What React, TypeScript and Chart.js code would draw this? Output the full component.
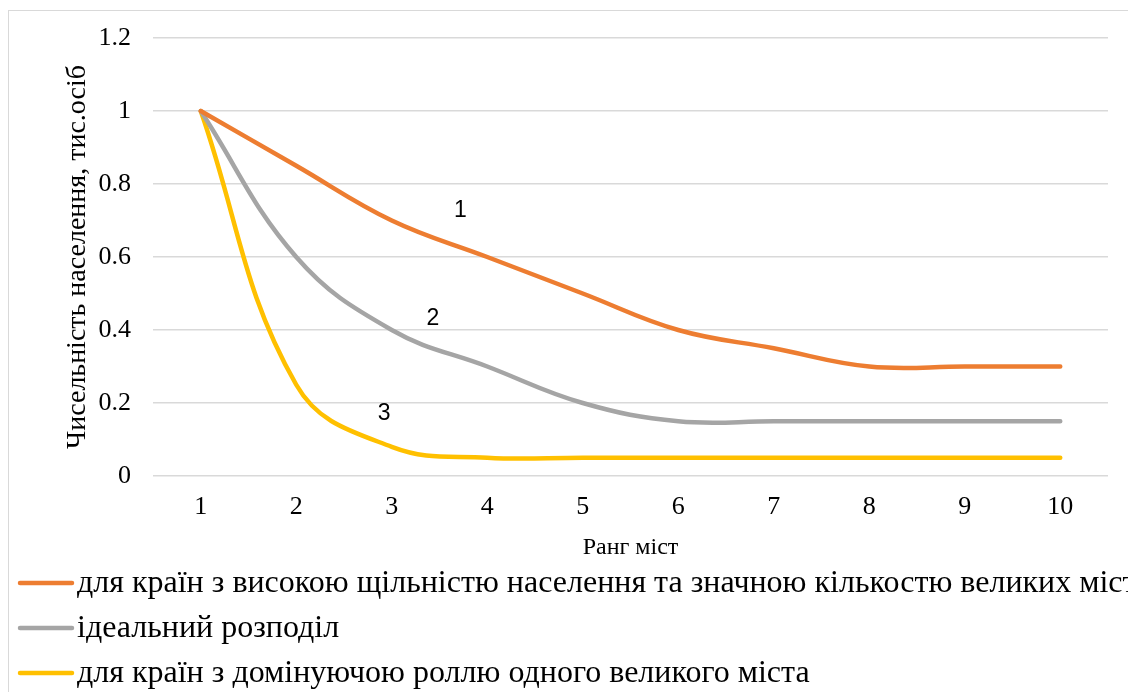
import React, { useEffect, useRef } from 'react';
import { Chart, registerables } from 'chart.js';

Chart.register(...registerables);

const ranks = ['1', '2', '3', '4', '5', '6', '7', '8', '9', '10'];
const denseSeries = [1, 0.85, 0.7, 0.6, 0.5, 0.4, 0.35, 0.3, 0.3, 0.3];
const idealSeries = [1, 0.6, 0.4, 0.3, 0.2, 0.15, 0.15, 0.15, 0.15, 0.15];
const dominantSeries = [1, 0.25, 0.08, 0.05, 0.05, 0.05, 0.05, 0.05, 0.05, 0.05];
const seriesNames = [
  'для країн з високою щільністю населення та значною кількостю великих міст',
  'ідеальний розподіл',
  'для країн з домінуючою роллю одного великого міста',
];
const seriesColors = ['#ED7D31', '#A5A5A5', '#FFC000'];
const yTickValues = [0, 0.2, 0.4, 0.6, 0.8, 1, 1.2];
const yTitle = 'Чисельність населення, тис.осіб';
const xTitle = 'Ранг міст';
const noteLabels = ['1', '2', '3'];
const noteRanks = [3.72, 3.43, 2.92];
const noteValues = [0.727, 0.43, 0.172];

const SERIF = '"Liberation Serif", "Times New Roman", serif';

const notesPlugin = {
  id: 'notes',
  afterDatasetsDraw(chart: any) {
    const { ctx, scales } = chart;
    ctx.save();
    ctx.font = '23px "Liberation Sans", Arial, sans-serif';
    ctx.fillStyle = '#000';
    ctx.textAlign = 'center';
    ctx.textBaseline = 'middle';
    noteLabels.forEach((t, i) => {
      const x = scales.x.getPixelForValue(noteRanks[i] - 1);
      const y = scales.y.getPixelForValue(noteValues[i]);
      ctx.fillText(t, x, y);
    });
    ctx.restore();
  },
};

const legendPlugin = {
  id: 'vlegend',
  afterDraw(chart: any) {
    const { ctx } = chart;
    const top = chart.scales.x.bottom + 15;
    const rowH = 45;
    ctx.save();
    ctx.font = '32px ' + SERIF;
    ctx.textBaseline = 'middle';
    ctx.textAlign = 'left';
    chart.data.datasets.forEach((ds: any, i: number) => {
      const y = top + rowH * i;
      ctx.strokeStyle = ds.borderColor;
      ctx.lineWidth = 4.5;
      ctx.lineCap = 'round';
      ctx.beginPath();
      ctx.moveTo(11, y);
      ctx.lineTo(63, y);
      ctx.stroke();
      ctx.fillStyle = '#000';
      ctx.fillText(ds.label, 68, y + 1);
    });
    ctx.restore();
  },
};

export default function App() {
  const ref = useRef<HTMLCanvasElement | null>(null);
  useEffect(() => {
    if (!ref.current) return;
    const values = [denseSeries, idealSeries, dominantSeries];
    const chart = new Chart(ref.current, {
      type: 'line',
      data: {
        labels: ranks,
        datasets: values.map((v, i) => ({
          label: seriesNames[i],
          data: v,
          borderColor: seriesColors[i],
          backgroundColor: seriesColors[i],
          borderWidth: 4.5,
          pointRadius: 0,
          tension: 0.4,
          borderCapStyle: 'round',
          borderJoinStyle: 'round',
          fill: false,
        })),
      },
      options: {
        animation: false,
        responsive: false,
        layout: { padding: { left: 0, right: 28, top: 27, bottom: 124 } },
        plugins: { legend: { display: false }, tooltip: { enabled: false } },
        scales: {
          x: {
            type: 'category',
            offset: true,
            grid: { display: false, drawTicks: false },
            border: { display: false },
            ticks: { font: { family: SERIF, size: 26 }, color: '#000', padding: 16, maxRotation: 0 },
            title: { display: true, text: xTitle, font: { family: SERIF, size: 24 }, color: '#000', padding: { top: 0, bottom: 6 } },
            afterFit: (s: any) => { s.height = 92; s.paddingLeft = 0; s.paddingRight = 0; },
          },
          y: {
            min: 0,
            max: 1.2,
            afterBuildTicks: (s: any) => { s.ticks = yTickValues.map((v) => ({ value: v })); },
            grid: { color: '#D9D9D9', lineWidth: 1.5, drawTicks: false },
            border: { display: false },
            ticks: {
              font: { family: SERIF, size: 26 },
              color: '#000',
              padding: 22,
              callback: (v: any) => String(Math.round(Number(v) * 10) / 10),
            },
            title: { display: true, text: yTitle, font: { family: SERIF, size: 28 }, color: '#000', padding: { top: 52, bottom: 0 } },
            afterFit: (s: any) => { s.width = 144; s.paddingTop = 0; s.paddingBottom = 0; },
          },
        },
      },
      plugins: [notesPlugin, legendPlugin],
    } as any);
    return () => chart.destroy();
  }, []);
  return (
    <div style={{ paddingTop: 2 }}>
      <div style={{ borderLeft: '1px solid #D9D9D9', borderTop: '1px solid #D9D9D9', width: 1127, height: 681, overflow: 'hidden' }}>
        <canvas ref={ref} width={1127} height={681} style={{ display: 'block' }} />
      </div>
    </div>
  );
}
